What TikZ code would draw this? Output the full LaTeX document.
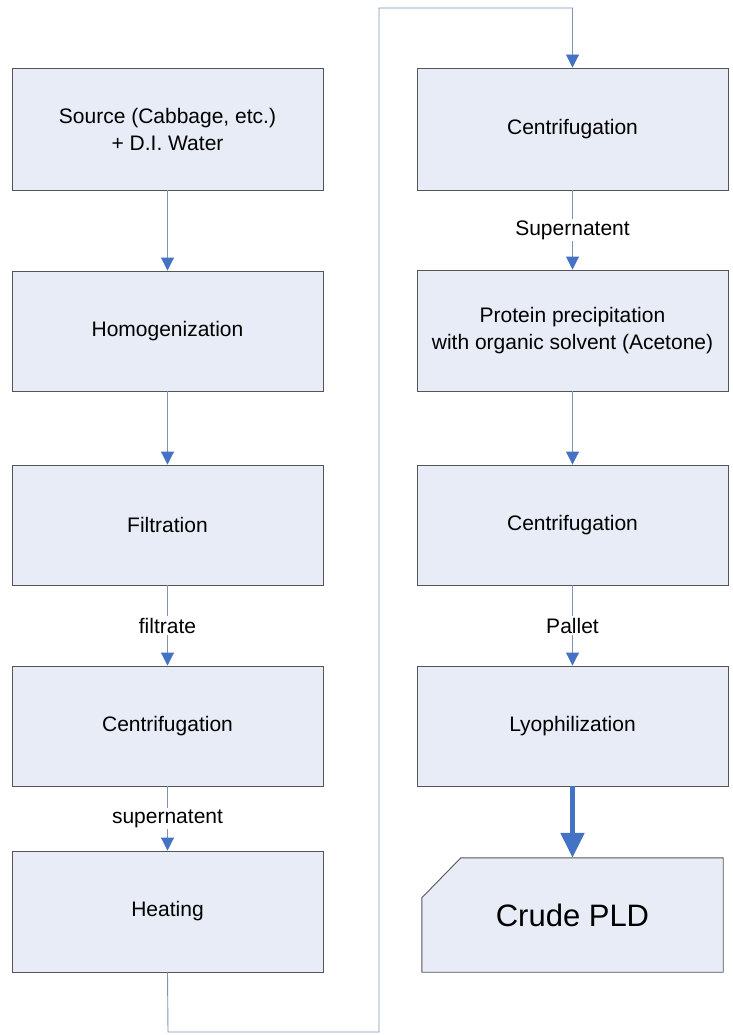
\documentclass[tikz,border=0pt]{standalone}
\usepackage{fontspec}
\setmainfont{Liberation Sans}
\usetikzlibrary{arrows.meta,calc}
\definecolor{boxfill}{RGB}{231,236,247}
\definecolor{boxline}{RGB}{85,85,85}
\definecolor{conn}{RGB}{128,148,178}
\definecolor{tipblue}{RGB}{68,114,196}
\tikzset{
  stepbox/.style={draw=boxline, fill=boxfill, line width=0.9pt, minimum width=311pt, inner sep=0pt, align=center, font=\fontsize{21}{27}\selectfont},
  flow/.style={draw=conn, line width=0.9pt, -{Triangle[length=13pt,width=13pt,fill=tipblue,color=tipblue]}},
  lbl/.style={fill=white, inner sep=1.5pt, font=\fontsize{21}{25}\selectfont},
  bigflow/.style={draw=tipblue, line width=5pt, -{Triangle[length=25pt,width=23pt]}}
}
\begin{document}
\begin{tikzpicture}[x=1pt,y=-1pt]
\useasboundingbox (0,0) rectangle (732,1035);
% left column
\node[stepbox, minimum height=122pt] (src) at (167.5,129) {Source (Cabbage, etc.)\\+ D.I. Water};
\node[stepbox, minimum height=120pt] (hom) at (167.5,331) {Homogenization};
\node[stepbox, minimum height=120pt] (fil) at (167.5,525) {Filtration};
\node[stepbox, minimum height=120pt] (cen1) at (167.5,726) {Centrifugation};
\node[stepbox, minimum height=121pt] (hea) at (167.5,911.5) {Heating};
% right column
\node[stepbox, minimum height=122pt] (cen2) at (572.5,129) {Centrifugation};
\node[stepbox, minimum height=121pt] (pre) at (572.5,330.5) {Protein precipitation\\with organic solvent (Acetone)};
\node[stepbox, minimum height=120pt] (cen3) at (572.5,525) {Centrifugation};
\node[stepbox, minimum height=120pt] (lyo) at (572.5,726) {Lyophilization};
% crude PLD
\node[minimum width=301pt, minimum height=114pt, inner sep=0pt] (pld) at (572.5,915) {};
\draw[draw=boxline, fill=boxfill, line width=0.9pt]
  ([xshift=39pt]pld.north west) -- (pld.north east) -- (pld.south east) -- (pld.south west) -- ([yshift=-40pt]pld.north west) -- cycle;
\node[inner sep=0pt, font=\fontsize{31}{36}\selectfont] (pldtext) at (pld.center) {Crude PLD};
% connectors
\draw[flow] (src.south) -- (hom.north);
\draw[flow] (hom.south) -- (fil.north);
\draw[flow] (fil.south) -- (cen1.north);
\draw[flow] (cen1.south) -- (hea.north);
\coordinate (b1) at (168,1032);
\coordinate (b2) at (379,1032);
\coordinate (t1) at (379,8);
\coordinate (t2) at (572.5,8);
\draw[flow] (hea.south) -- (b1) -- (b2) -- (t1) -- (t2) -- (cen2.north);
\draw[flow] (cen2.south) -- (pre.north);
\draw[flow] (pre.south) -- (cen3.north);
\draw[flow] (cen3.south) -- (lyo.north);
\draw[bigflow] (lyo.south) -- (pld.north);
% labels
\node[lbl] (l1) at ($(fil.south)!0.5!(cen1.north)$) {filtrate};
\node[lbl] (l2) at ($(cen1.south)!0.5!(hea.north)$) {supernatent};
\node[lbl] (l3) at ($(cen2.south)!0.5!(pre.north)$) {Supernatent};
\node[lbl] (l4) at ($(cen3.south)!0.5!(lyo.north)$) {Pallet};
\end{tikzpicture}
\end{document}
